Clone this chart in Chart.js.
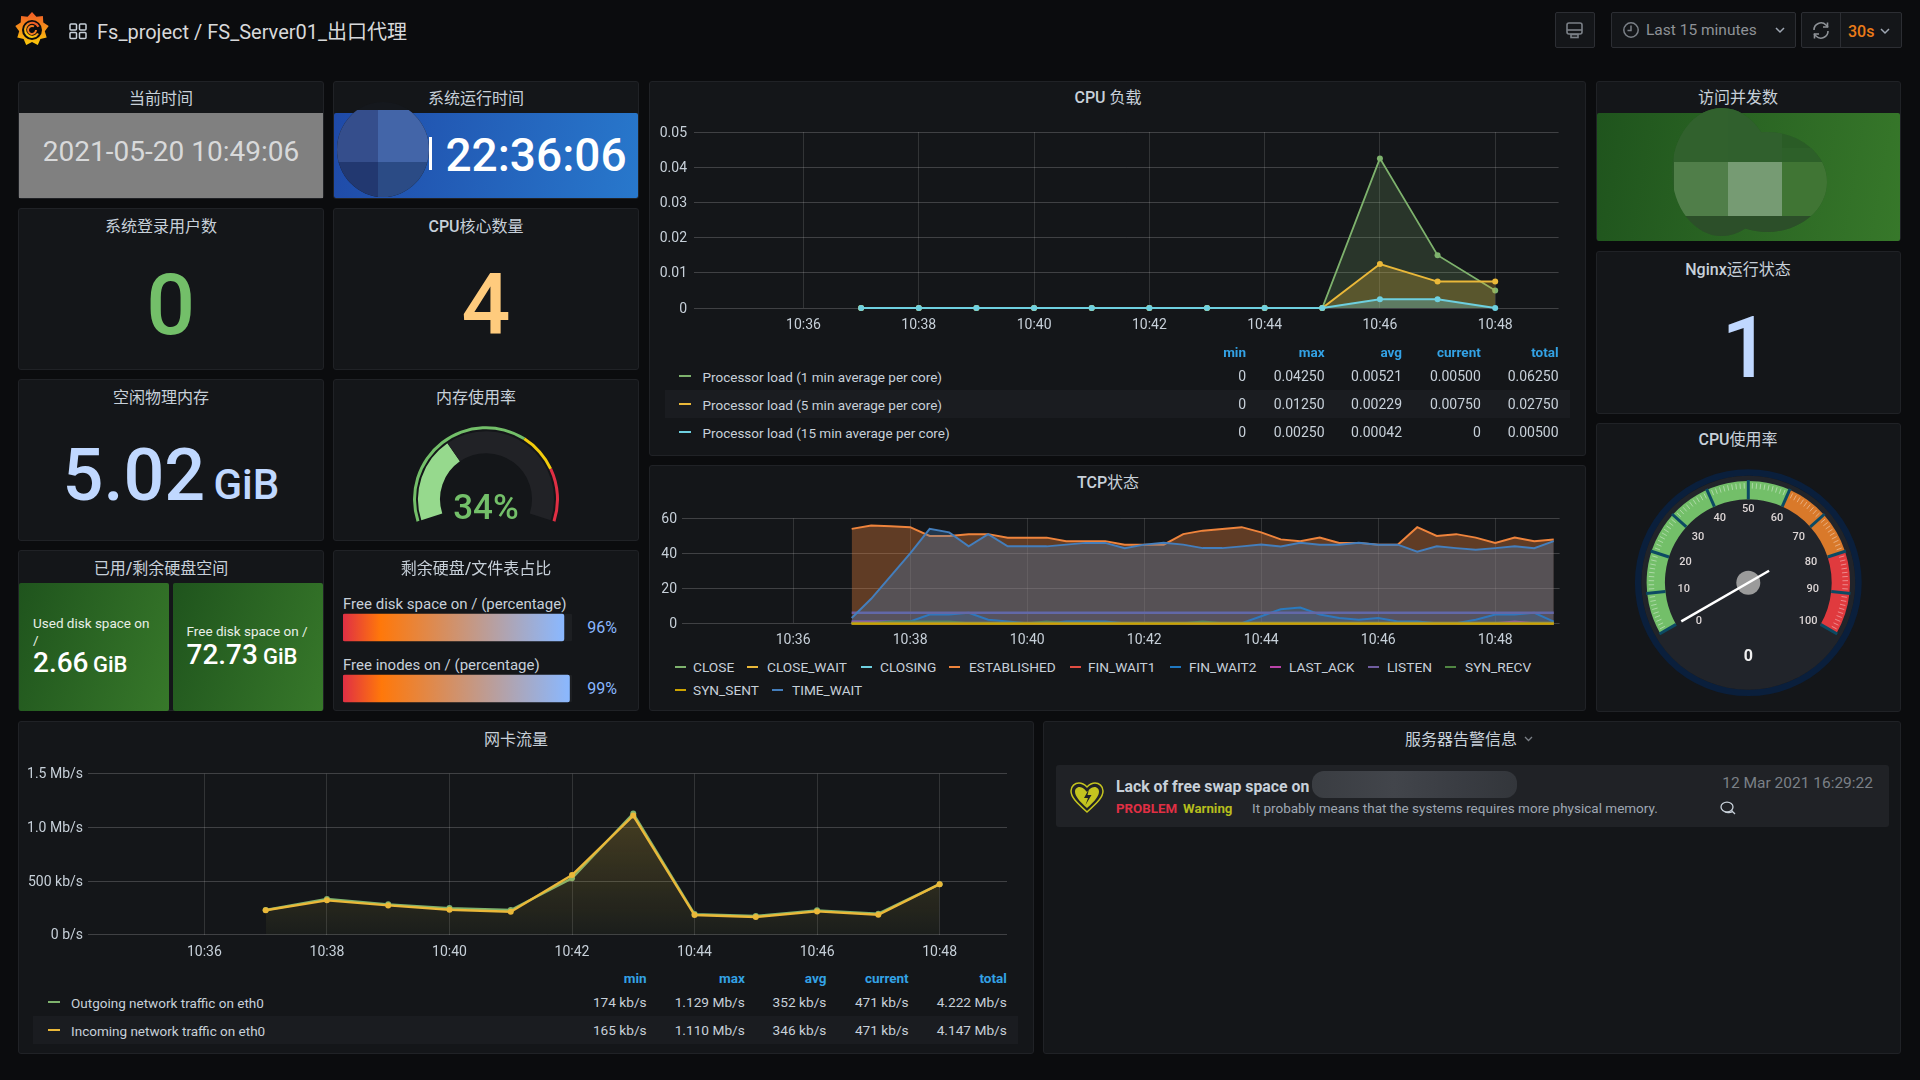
<!DOCTYPE html>
<html lang="zh"><head><meta charset="utf-8"><title>Fs_project / FS_Server01_出口代理</title>
<script src="https://cdn.jsdelivr.net/npm/chart.js@4"></script>
<style>
html,body{margin:0;padding:0;width:1920px;height:1080px;overflow:hidden;background:#0b0c0e;font-family:Roboto,"Noto Sans CJK SC",sans-serif;color:#c7d0d9}
#root{position:absolute;left:0;top:0;width:1920px;height:1080px}
.p{position:absolute;box-sizing:border-box;background:#141619;border:1px solid #202226;border-radius:3px}
.t{position:absolute;white-space:nowrap;line-height:1.1}
canvas{position:absolute;display:block}
svg{position:absolute;overflow:visible}
.b{position:absolute;box-sizing:border-box}
</style></head><body><div id="root"></div>
<script>
/* ---------- data ---------- */
const headerTitle='Fs_project / FS_Server01_出口代理';
const timeRangeLabel='Last 15 minutes', refreshLabel='30s';
const xTickLabels=['10:36','10:38','10:40','10:42','10:44','10:46','10:48'];
const rangeStart='10:34:06', rangeEnd='10:49:06';

const cpuTimes=['10:37','10:38','10:39','10:40','10:41','10:42','10:43','10:44','10:45','10:46','10:47','10:48'];
const cpuLoad1=[0,0,0,0,0,0,0,0,0,0.0425,0.015,0.005];
const cpuLoad5=[0,0,0,0,0,0,0,0,0,0.0125,0.0075,0.0075];
const cpuLoad15=[0,0,0,0,0,0,0,0,0,0.0025,0.0025,0];
const cpuYTicks=[0,0.01,0.02,0.03,0.04,0.05];
const cpuYLabels=['0','0.01','0.02','0.03','0.04','0.05'];
const legendCols=['min','max','avg','current','total'];
const cpuLegendNames=['Processor load (1 min average per core)','Processor load (5 min average per core)','Processor load (15 min average per core)'];
const cpuLegend1=['0','0.04250','0.00521','0.00500','0.06250'];
const cpuLegend5=['0','0.01250','0.00229','0.00750','0.02750'];
const cpuLegend15=['0','0.00250','0.00042','0','0.00500'];

const tcpTimes=['10:37:00','10:37:20','10:37:40','10:38:00','10:38:20','10:38:40','10:39:00','10:39:20','10:39:40','10:40:00','10:40:20','10:40:40','10:41:00','10:41:20','10:41:40','10:42:00','10:42:20','10:42:40','10:43:00','10:43:20','10:43:40','10:44:00','10:44:20','10:44:40','10:45:00','10:45:20','10:45:40','10:46:00','10:46:20','10:46:40','10:47:00','10:47:20','10:47:40','10:48:00','10:48:20','10:48:40','10:49:00'];
const tcpClose=[0,0,0,0,0,0,0,0,0,0,0,0,0,0,0,0,0,0,0,0,0,0,0,0,0,0,0,0,0,0,0,0,0,0,0,0,0];
const tcpCloseWait=[0,0,0,0,0,0,0,0,0,0,0,0,0,0,0,0,0,0,0,0,0,0,0,0,0,0,0,0,0,0,0,0,0,0,0,0,0];
const tcpClosing=[0,0,0,0,0,0,0,0,0,0,0,0,0,0,0,0,0,0,0,0,0,0,0,0,0,0,0,0,0,0,0,0,0,0,0,0,0];
const tcpEstablished=[54,56,55.5,55,50,50,51,51,49,49,49,47,47,47,45,45,45,51,53,54,55,52,48,47,49,46,46,45,45,55,50,51,49,46,49,47,48];
const tcpFinWait1=[0,0,0,0,0,0,0,0,0,0,0,0,0,0,0,0,0,0,0,0,0,0,0,0,0,0,0,0,0,0,0,0,0,0,0,0,0];
const tcpFinWait2=[1,1,1,1,5,5,6,2,1,0,0,1,1,1,0,0,0,0,0,0,0,4,8,9,5,3,2,3,1,1,0,0,2,5,5,6,1];
const tcpLastAck=[1,1,1,0,0,0,0,0,0,0,0,0,0,0,0,0,0,0,0,0,0,0,0,0,0,0,0,0,0,0,0,0,0,0,1,0,0];
const tcpListen=[6,6,6,6,6,6,6,6,6,6,6,6,6,6,6,6,6,6,6,6,6,6,6,6,6,6,6,6,6,6,6,6,6,6,6,6,6];
const tcpSynRecv=[0,0,1,1,1,1,0,0,0,0,1,0,0,0,0,0,0,0,1,0,0,0,0,0,0,0,0,0,0,0,0,0,0,0,0,0,0];
const tcpSynSent=[0,0,0,0,0,0,0,0,0,0,0,0,0,0,0,0,0,0,0,0,0,0,0,0,0,0,0,0,0,0,0,0,0,0,0,0,0];
const tcpTimeWait=[3,14,27,40,54,52,44,51,44,44,44,45,46,46,43,45,46,45,43,43,44,45,44,46,45,45,46,45,45,41,44,43,42,43,44,43,47];
const tcpNames=['CLOSE','CLOSE_WAIT','CLOSING','ESTABLISHED','FIN_WAIT1','FIN_WAIT2','LAST_ACK','LISTEN','SYN_RECV','SYN_SENT','TIME_WAIT'];
const tcpYTicks=[0,20,40,60];

const netTimes=['10:37','10:38','10:39','10:40','10:41','10:42','10:43','10:44','10:45','10:46','10:47','10:48'];
const netOut=[230,332,283,248,230,525,1129,192,174,227,196,471];
const netIn=[228,320,273,233,214,556,1110,183,165,217,186,471];
const netYTicks=[0,500,1000,1500];
const netYLabels=['0 b/s','500 kb/s','1.0 Mb/s','1.5 Mb/s'];
const netLegendNames=['Outgoing network traffic on eth0','Incoming network traffic on eth0'];
const netLegendOut=['174 kb/s','1.129 Mb/s','352 kb/s','471 kb/s','4.222 Mb/s'];
const netLegendIn=['165 kb/s','1.110 Mb/s','346 kb/s','471 kb/s','4.147 Mb/s'];

const memUsage=34, memThresholds=[65,15,20];
const diskNames=['Free disk space on / (percentage)','Free inodes on / (percentage)'];
const diskValues=[96.47,98.9];
const diskLabels=['96%','99%'];
const cpuUsage=0;
const speedBands=[60,20,20];
const speedLabels=[0,10,20,30,40,50,60,70,80,90,100];

/* ---------- helpers ---------- */
const root=document.getElementById('root');
const FONT='Roboto,"Noto Sans CJK SC",sans-serif';
function panel(l,t,r,b){const d=document.createElement('div');d.className='p';d.style.cssText=`left:${l}px;top:${t}px;width:${r-l}px;height:${b-t}px`;root.appendChild(d);return d;}
function box(l,t,w,h,css){const d=document.createElement('div');d.className='b';d.style.cssText=`left:${l}px;top:${t}px;width:${w}px;height:${h}px;${css||''}`;root.appendChild(d);return d;}
function txt(x,y,s,css,anchor){const d=document.createElement('div');d.className='t';d.textContent=s;
 const tx=anchor==='r'?'-100%':anchor==='l'?'0':'-50%';
 d.style.cssText=`left:${x}px;top:${y}px;transform:translate(${tx},-50%);${css||''}`;root.appendChild(d);return d;}
function title(x,y,s){const d=txt(x,y+1.5,'','font-size:16px;color:#c7d0d9');
 s.split(/([\u4e00-\u9fff]+)/).filter(Boolean).forEach(part=>{const sp=document.createElement('span');sp.textContent=part;sp.style.fontWeight=/[\u4e00-\u9fff]/.test(part)?'400':'500';d.appendChild(sp);});return d;}
function svg(l,t,w,h,inner){const d=document.createElement('div');d.innerHTML=`<svg xmlns="http://www.w3.org/2000/svg" width="${w}" height="${h}" viewBox="0 0 ${w} ${h}" style="left:${l}px;top:${t}px">${inner}</svg>`;root.appendChild(d.firstChild);}
function cv(l,t,w,h){const c=document.createElement('canvas');c.width=w;c.height=h;c.style.cssText=`left:${l}px;top:${t}px;width:${w}px;height:${h}px`;root.appendChild(c);return c;}
const toMin=s=>{const p=s.split(':').map(Number);return p[0]*60+p[1]+(p[2]||0)/60;};
const alpha=(hex,a)=>{const n=parseInt(hex.slice(1),16);return `rgba(${n>>16},${(n>>8)&255},${n&255},${a})`;};
Chart.defaults.font.family=FONT;

function lineChart(box,plot,datasets,yTicks,yFmt,yMax,yPad){
 const c=cv(box.l,box.t,box.r-box.l,box.b-box.t);
 return new Chart(c,{type:'line',data:{datasets:datasets.map((d,i)=>({parsing:false,order:datasets.length-i,tension:0,clip:false,...d}))},
  options:{responsive:false,animation:false,events:[],
   layout:{padding:{left:0,top:plot.t-box.t,right:box.r-plot.r,bottom:0}},
   plugins:{legend:{display:false},tooltip:{enabled:false}},
   scales:{
    x:{type:'linear',min:toMin(rangeStart),max:toMin(rangeEnd),
      afterBuildTicks:s=>{s.ticks=xTickLabels.map(v=>({value:toMin(v)}));},
      afterFit:s=>{s.height=box.b-plot.b;},
      ticks:{autoSkip:false,maxRotation:0,color:'#c7d0d9',font:{size:14},padding:9,callback:v=>xTickLabels[xTickLabels.findIndex(k=>toMin(k)===v)]},
      grid:{color:'rgba(255,255,255,0.13)',drawTicks:false},border:{display:false}},
    y:{type:'linear',min:0,max:yMax,
      afterBuildTicks:s=>{s.ticks=yTicks.map(v=>({value:v}));},
      afterFit:s=>{s.width=plot.l-box.l;},
      ticks:{autoSkip:false,color:'#c7d0d9',font:{size:14},padding:yPad,labelOffset:1,callback:yFmt},
      grid:{color:'rgba(255,255,255,0.19)',drawTicks:false},border:{display:false}}
   }}});
}
function pts(times,vals){return times.map((t,i)=>({x:toMin(t),y:vals[i]}));}
function ser(times,vals,color,fillA,w,r){return {data:pts(times,vals),borderColor:color,backgroundColor:alpha(color,fillA),fill:fillA>0?'origin':false,borderWidth:w,pointRadius:r,pointBackgroundColor:color,pointBorderColor:color,pointBorderWidth:0};}
function legendTable(cols,colRights,headY,rowYs,names,rows,colors,dashX,textX,altRow,valSize){
 cols.forEach((c,i)=>txt(colRights[i],headY,c,'font-size:13.5px;font-weight:700;color:#33a2e5','r'));
 box(altRow.l,altRow.t,altRow.w,altRow.h,'background:#1a1c20');
 names.forEach((n,j)=>{
  box(dashX,rowYs[j]-1,12,2,`background:${colors[j]}`);
  txt(textX,rowYs[j]+1,n,'font-size:13.5px;color:#c7d0d9','l');
  rows[j].forEach((v,i)=>txt(colRights[i],rowYs[j]+1,v,`font-size:${valSize}px;color:#c7d0d9`,'r'));
 });
}

/* ---------- header ---------- */
(function(){let p='';for(let i=0;i<18;i++){const a=i*Math.PI/9-Math.PI/2,r=i%2?13:17;p+=(i?'L':'M')+(17+r*Math.cos(a)).toFixed(1)+' '+(17+r*Math.sin(a)).toFixed(1);}p+='Z';
svg(15,12,34,34,`<defs><linearGradient id="lg" x1="0" y1="1" x2="0" y2="0"><stop offset="0" stop-color="#fbca0a"/><stop offset="1" stop-color="#f05a28"/></linearGradient></defs>
<path d="${p}" fill="url(#lg)"/><circle cx="17" cy="18" r="10" fill="#0b0c0e"/>
<path d="M25 14a8.700 8.700 0 1 0 0 7" fill="none" stroke="url(#lg)" stroke-width="0"/>
<path d="M24 18a7 7 0 1 1-3-6" fill="none" stroke="url(#lg)" stroke-width="2.200" transform="rotate(30 17 18)"/>
<path d="M21 18a4 4 0 1 1-2-3.500" fill="none" stroke="#f47b20" stroke-width="2"/>`);})();
svg(69,23,18,16,`<g fill="none" stroke="#c7d0d9" stroke-width="1.5"><rect x="1" y="1" width="6.5" height="6" rx="1"/><rect x="10.5" y="1" width="6.5" height="6" rx="1"/><rect x="1" y="9.5" width="6.5" height="6" rx="1"/><rect x="10.5" y="9.5" width="6.5" height="6" rx="1"/></g>`);
txt(97,31.5,headerTitle,'font-size:20px;color:#d8d9da','l');
const btn='background:#141619;border:1px solid #2c2e33;border-radius:2px';
box(1555,12,40,36,btn);
svg(1566,22,18,18,`<g fill="none" stroke="#7b8087" stroke-width="1.6"><rect x="1" y="1" width="15" height="11" rx="2"/><path d="M1 8h15"/><rect x="5" y="12.5" width="7" height="3"/></g>`);
box(1611,12,185,36,btn);
svg(1623,22,17,17,`<g fill="none" stroke="#7b8087" stroke-width="1.5"><circle cx="8" cy="8" r="7.2"/><path d="M8 3.5V8.5H4.5"/></g>`);
txt(1646,31,timeRangeLabel,'font-size:15.5px;color:#8e9297','l');
svg(1775,27,10,7,`<path d="M1 1l4 4 4-4" fill="none" stroke="#9fa7b3" stroke-width="1.5"/>`);
box(1801,12,101,36,btn);box(1840,12,1,36,'background:#2c2e33');
svg(1812,21,18,19,`<g fill="none" stroke="#8e9297" stroke-width="1.6"><path d="M2 9a7 7 0 0 1 12-5l2 2"/><path d="M16 10a7 7 0 0 1-12 5l-2-2"/><path d="M15.5 1.5v4.5h-4.5M2.5 17.5v-4.5h4.5"/></g>`);
txt(1848,32,refreshLabel,'font-size:16px;font-weight:500;color:#eb7b18','l');
svg(1880,28,10,7,`<path d="M1 1l4 4 4-4" fill="none" stroke="#9fa7b3" stroke-width="1.5"/>`);

/* ---------- stat column ---------- */
panel(18,81,324,199);title(161,97,'当前时间');
box(19,113,304,85,'background:#808080');
txt(171,152,'2021-05-20 10:49:06','font-size:28px;color:#d8d9da');

panel(333,81,639,199);title(476,97,'系统运行时间');
box(334,113,304,85,'background:linear-gradient(100deg,#1f4aa8,#2878cc);border-radius:2px');
box(428.5,137,3,33,'background:#fff');
txt(536,155,'22:36:06','font-size:46px;font-weight:500;color:#fff');
svg(337,102,92,95,`<defs><clipPath id="cb"><ellipse cx="46" cy="47.5" rx="46" ry="47.5"/></clipPath></defs><g clip-path="url(#cb)">
<rect x="0" y="0" width="92" height="95" fill="#15181d"/><rect x="0" y="8" width="41" height="52" fill="#354e8c"/><rect x="41" y="8" width="51" height="52" fill="#4365a8"/><rect x="0" y="60" width="41" height="35" fill="#223870"/><rect x="41" y="60" width="51" height="35" fill="#2b4b85"/></g>`);

panel(18,208,324,370);title(161,225,'系统登录用户数');
txt(170.6,305,'0','font-size:86px;font-weight:500;color:#73bf69');
panel(333,208,639,370);title(476,225,'CPU核心数量');
txt(486,305,'4','font-size:86px;font-weight:500;color:#ffcb7d');

panel(18,379,324,541);title(161,396,'空闲物理内存');
txt(62.5,476,'5.02','font-size:72px;font-weight:500;color:#c0d8ff','l');
txt(213.5,485,'GiB','font-size:42px;font-weight:500;color:#c0d8ff','l');

panel(333,379,639,541);title(476,396,'内存使用率');
new Chart(cv(413,426,146,96),{type:'doughnut',data:{datasets:[
 {data:memThresholds,backgroundColor:['#73bf69','#f2cc0c','#e02f44'],borderWidth:0,weight:3},
 {data:[100],backgroundColor:'rgba(0,0,0,0)',borderWidth:0,weight:2},
 {data:[memUsage,100-memUsage],backgroundColor:['#96d98d','#212226'],borderWidth:0,weight:22}]},
 options:{responsive:false,animation:false,events:[],rotation:-108,circumference:216,cutout:'63%',plugins:{legend:{display:false},tooltip:{enabled:false}}}});
txt(486,508,memUsage+'%','font-size:35px;font-weight:500;color:#73bf69');

panel(18,550,324,711);title(161,567,'已用/剩余硬盘空间');
const greenBg='background:linear-gradient(110deg,#1f541d,#37782a);border-radius:2px';
box(19,583,150,128,greenBg);box(173,583,150,128,greenBg);
txt(33,623,'Used disk space on','font-size:13.5px;color:#e8efe6','l');
txt(33,640,'/','font-size:13.5px;color:#e8efe6','l');
txt(33,663,'2.66','font-size:28px;font-weight:500;color:#fff','l');
txt(93,665,'GiB','font-size:22px;font-weight:500;color:#fff','l');
txt(186.5,631,'Free disk space on /','font-size:13.5px;color:#e8efe6','l');
txt(186.5,655,'72.73','font-size:28px;font-weight:500;color:#fff','l');
txt(263,657,'GiB','font-size:22px;font-weight:500;color:#fff','l');

panel(333,550,639,711);title(476,567,'剩余硬盘/文件表占比');
txt(343,604,diskNames[0],'font-size:15px;color:#c7d0d9','l');
txt(343,665,diskNames[1],'font-size:15px;color:#c7d0d9','l');
new Chart(cv(343,597,229,122),{type:'bar',data:{labels:diskNames,datasets:[
 {data:diskValues,order:0,barThickness:27,borderRadius:2,borderSkipped:false,backgroundColor:c=>{
   const a=c.chart.chartArea;if(!a)return '#8ab8ff';
   const end=a.left+(a.right-a.left)*c.raw/100;
   const g=c.chart.ctx.createLinearGradient(a.left,0,end,0);g.addColorStop(0,'#e02f44');g.addColorStop(0.17,'#ff780a');g.addColorStop(1,'#8ab8ff');return g;}},
 {data:diskValues.map(()=>100),order:1,barThickness:27,borderRadius:2,backgroundColor:'rgba(255,255,255,0.04)'}]},
 options:{indexAxis:'y',responsive:false,animation:false,events:[],layout:{padding:0},plugins:{legend:{display:false},tooltip:{enabled:false}},
  datasets:{bar:{grouped:false}},
  scales:{x:{display:false,min:0,max:100},y:{display:false}}}});
txt(602,628,diskLabels[0],'font-size:16px;color:#8ab8ff');
txt(602,689,diskLabels[1],'font-size:16px;color:#8ab8ff');

/* ---------- CPU load ---------- */
panel(649,81,1586,456);title(1108,96,'CPU 负载');
lineChart({l:649,t:110,r:1586,b:345},{l:694,t:132,r:1558.6,b:308},[
 ser(cpuTimes,cpuLoad1,'#7eb26d',0.2,1.8,3),
 ser(cpuTimes,cpuLoad5,'#eab839',0.25,2,3),
 ser(cpuTimes,cpuLoad15,'#6ed0e0',0.3,2,3)],cpuYTicks,v=>cpuYLabels[cpuYTicks.indexOf(v)],0.05,7);
const cpuCols=[1246,1324.6,1402,1480.8,1558.6];
legendTable(legendCols,cpuCols,352,[376,404,432],cpuLegendNames,[cpuLegend1,cpuLegend5,cpuLegend15],['#7eb26d','#eab839','#6ed0e0'],679,702.5,{l:664.5,t:390,w:905,h:28},14);

/* ---------- TCP ---------- */
panel(649,465,1586,711);title(1108,481,'TCP状态');
const tcpColors=['#7eb26d','#eab839','#6ed0e0','#ef843c','#e24d42','#1f78c1','#ba43a9','#705da0','#508642','#cca300','#447ebc'];
const tcpSeries=[tcpClose,tcpCloseWait,tcpClosing,tcpEstablished,tcpFinWait1,tcpFinWait2,tcpLastAck,tcpListen,tcpSynRecv,tcpSynSent,tcpTimeWait];
const tcpFills=[0.1,0.1,0.1,0.35,0.1,0.2,0.1,0.1,0.1,0.1,0.32];
const tcpWidths=[2,2,2,2,2,2,2,2.5,2,3,2];
lineChart({l:649,t:505,r:1586,b:655},{l:682,t:516.7,r:1559.6,b:623.3},
 tcpSeries.map((v,i)=>ser(tcpTimes,v,tcpColors[i],tcpFills[i],tcpWidths[i],0)),tcpYTicks,v=>String(v),60,5);
const tcpLegendX=[[675,693],[747,767],[860.5,880],[949,969],[1070,1088],[1170,1189],[1269.5,1289],[1367.5,1387],[1445,1465],[675,693],[772,792]];
tcpNames.forEach((n,i)=>{const y=i<9?667:690;
 box(tcpLegendX[i][0],y-1,11,2,`background:${tcpColors[i]}`);
 txt(tcpLegendX[i][1],y+1,n,'font-size:13.7px;color:#c7d0d9','l');});

/* ---------- right column ---------- */
panel(1596,81,1901,241);title(1738,96,'访问并发数');
box(1597,113,303,128,'background:linear-gradient(100deg,#1f541d,#37782a);border-radius:2px');
svg(1667,108,160,129,`<defs><clipPath id="cg"><ellipse cx="55" cy="64" rx="50" ry="64"/><ellipse cx="100" cy="74" rx="60" ry="50"/></clipPath></defs><g clip-path="url(#cg)">
<rect x="0" y="0" width="160" height="129" fill="#2a5c26"/><rect x="7" y="0" width="54" height="54" fill="#31612d"/><rect x="61" y="0" width="54" height="54" fill="#30602d"/><rect x="115" y="40" width="45" height="14" fill="#2d6029"/>
<rect x="7" y="54" width="54" height="54" fill="#507e49"/><rect x="61" y="54" width="54" height="54" fill="#769b73"/><rect x="115" y="54" width="45" height="54" fill="#407534"/>
<rect x="0" y="108" width="160" height="21" fill="#2c4f29"/></g>`);

panel(1596,251,1901,414);title(1738,268,'Nginx运行状态');
txt(1746,348,'1','font-size:86px;font-weight:500;color:#c0d8ff');

panel(1596,423,1901,712);title(1738,438,'CPU使用率');
const angleOf=v=>(-120+240*v/100-90)*Math.PI/180;
const speedo={id:'speedo',
 beforeDatasetsDraw(ch){const a=ch.getDatasetMeta(0).data[0],c=ch.ctx,R=a.outerRadius;
  c.save();c.beginPath();c.arc(a.x,a.y,R*1.083,0,7);c.lineWidth=R*0.064;c.strokeStyle='#0a1f3c';c.stroke();
  c.beginPath();c.arc(a.x,a.y,R*1.052,0,7);c.fillStyle='#21242a';c.fill();c.restore();},
 afterDatasetsDraw(ch){const a=ch.getDatasetMeta(0).data[0],c=ch.ctx,R=a.outerRadius,r0=a.innerRadius;
  c.save();
  for(let v=0;v<=100;v+=1){if(v%10===0)continue;const t=angleOf(v);c.beginPath();c.moveTo(a.x+Math.cos(t)*(R-7.5),a.y+Math.sin(t)*(R-7.5));c.lineTo(a.x+Math.cos(t)*(R-2),a.y+Math.sin(t)*(R-2));c.strokeStyle='rgba(255,255,255,.4)';c.lineWidth=1;c.stroke();}
  speedLabels.forEach(v=>{const t=angleOf(v);c.beginPath();c.moveTo(a.x+Math.cos(t)*r0,a.y+Math.sin(t)*r0);c.lineTo(a.x+Math.cos(t)*(R+1),a.y+Math.sin(t)*(R+1));c.strokeStyle='#0c4a63';c.lineWidth=3;c.stroke();});
  c.font='500 11px '+FONT;c.fillStyle='#ddd6d6';c.textAlign='center';c.textBaseline='middle';
  speedLabels.forEach(v=>{const q=1-Math.abs(v-50)/50;let t=angleOf(v),r=64.5+9*q*q;
    if(v===0){t-=8*Math.PI/180;r=62.7;}
    if(v===100){t+=3*Math.PI/180;r=71.4;}
    c.fillText(String(v),a.x+Math.cos(t)*r,a.y+Math.sin(t)*r);});
  c.beginPath();c.arc(a.x,a.y,12,0,7);c.fillStyle='#9b9b9b';c.fill();
  const n=angleOf(cpuUsage);c.beginPath();c.moveTo(a.x-Math.cos(n)*24,a.y-Math.sin(n)*24);c.lineTo(a.x+Math.cos(n)*77.4,a.y+Math.sin(n)*77.4);c.strokeStyle='#fff';c.lineWidth=2.5;c.stroke();
  c.font='700 16px '+FONT;c.fillStyle='#f0f0f0';c.fillText(String(cpuUsage),a.x,a.y+74);
  c.restore();}};
new Chart(cv(1628,464,240,240),{type:'doughnut',plugins:[speedo],data:{datasets:[{data:speedBands,backgroundColor:['#73bf69','#d9792a','#e03a3e'],borderWidth:0}]},
 options:{responsive:false,animation:false,events:[],rotation:-120,circumference:240,cutout:'82%',layout:{padding:{left:18.6,right:18,top:17,bottom:70.4}},plugins:{legend:{display:false},tooltip:{enabled:false}}}});

/* ---------- network ---------- */
panel(18,721,1034,1054);title(516,738,'网卡流量');
const netGrad=c=>{const a=c.chart.chartArea;if(!a)return 'rgba(0,0,0,0)';const y=c.chart.scales.y;const g=c.chart.ctx.createLinearGradient(0,y.getPixelForValue(1129),0,a.bottom);g.addColorStop(0,'rgba(234,184,57,0.22)');g.addColorStop(1,'rgba(234,184,57,0.02)');return g;};
const nOut=ser(netTimes,netOut,'#7eb26d',0.03,2.4,3), nIn=ser(netTimes,netIn,'#eab839',0.1,2.4,3);nIn.backgroundColor=netGrad;
lineChart({l:18,t:755,r:1034,b:965},{l:88,t:773.7,r:1007,b:934.7},[nOut,nIn],netYTicks,v=>netYLabels[netYTicks.indexOf(v)],1500,5);
legendTable(legendCols,[646.7,744.8,826.4,908.7,1006.8],978,[1002,1030],netLegendNames,[netLegendOut,netLegendIn],['#7eb26d','#eab839'],48,71,{l:33,t:1016,w:985,h:28},13.7);

/* ---------- alerts ---------- */
panel(1043,721,1901,1054);
title(1461,738,'服务器告警信息');
svg(1524,736,9,6,`<path d="M1 1l3.5 3.5L8 1" fill="none" stroke="#7b8087" stroke-width="1.3"/>`);
box(1056,765,833,62,'background:#202226;border-radius:3px');
svg(1070,782,34,32,`<path d="M17 30C6 20 1 15 1 9 1 4 5 1 9 1c3 0 6 2 8 4 2-2 5-4 8-4 4 0 8 3 8 8 0 6-5 11-16 21z" fill="none" stroke="#c4c41f" stroke-width="1.5"/>
<path d="M17 26C9 19 5 14 5 9.5 5 6.5 7.5 5 9.5 5c3 0 6 3 7.5 5 1.5-2 4.5-5 7.5-5 2 0 4.500 1.500 4.500 4.500C29 14 25 19 17 26z" fill="#c4c41f"/><path d="M19 7l-5 9h4l-2.500 7 6-10h-4z" fill="#202226"/>`);
txt(1116,787,'Lack of free swap space on','font-size:15.8px;font-weight:700;color:#c7d0d9','l');
box(1312,771,205,27,'background:linear-gradient(90deg,#3a3d42,#42454b 40%,#3a3d43 70%,#33363b);border-radius:12px');
txt(1116,809,'PROBLEM','font-size:13.3px;font-weight:700;color:#e02f44','l');
txt(1183,809,'Warning','font-size:13.3px;font-weight:700;color:#b5bd1d','l');
txt(1252,808,'It probably means that the systems requires more physical memory.','font-size:13.5px;color:#9fa7b3','l');
txt(1873,784,'12 Mar 2021 16:29:22','font-size:15.5px;color:#7b8087','r');
svg(1720,801,17,14,`<g fill="none" stroke="#c7d0d9" stroke-width="1.3"><ellipse cx="7" cy="6" rx="6" ry="4.800"/><path d="M5 11c2 1 6 1 8-1M12 10l3 3"/></g>`);
</script></body></html>
